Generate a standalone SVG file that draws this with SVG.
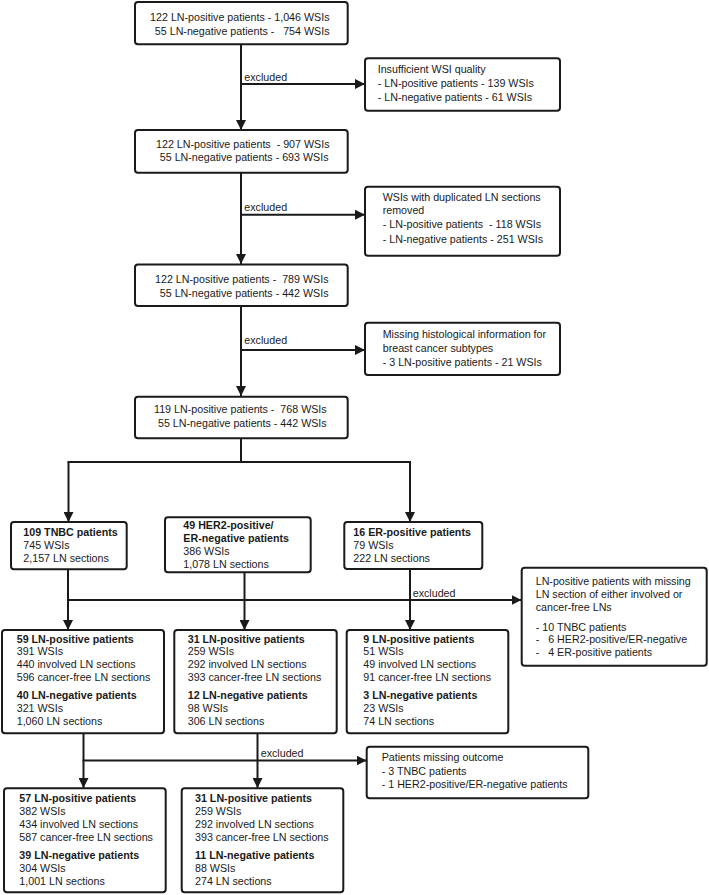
<svg xmlns="http://www.w3.org/2000/svg" width="709" height="895" viewBox="0 0 709 895">
<defs>
<style>
.box{fill:#fff;stroke:#1a1a1a;stroke-width:2}
.ln{fill:none;stroke:#1a1a1a;stroke-width:2}
.arr{marker-end:url(#ah)}
text{font-family:"Liberation Sans",Arial,sans-serif;font-size:10.7px;fill:#1a1a1a}
.b{font-weight:bold}
.e{text-anchor:end}
</style>
<marker id="ah" markerUnits="userSpaceOnUse" markerWidth="11" markerHeight="10" refX="10" refY="5" orient="auto">
<path d="M0,0 L10,5 L0,10 z" fill="#1a1a1a"/>
</marker>
</defs>
<rect width="709" height="895" fill="#fff"/>

<g id="connectors">
<path class="ln arr" d="M241,44 V130"/>
<path class="ln arr" d="M241,84 H365"/>
<path class="ln arr" d="M241,173 V264"/>
<path class="ln arr" d="M241,214.7 H365"/>
<path class="ln arr" d="M241,306 V396"/>
<path class="ln arr" d="M241,350 H365"/>
<path class="ln" d="M241,438 V462 M67.5,462 H411"/>
<path class="ln arr" d="M68.5,462 V522"/>
<path class="ln arr" d="M410,462 V522"/>
<path class="ln arr" d="M68,569 V630"/>
<path class="ln arr" d="M67,600 H521.5"/>
<path class="ln arr" d="M244.5,572 V630"/>
<path class="ln arr" d="M410,569 V630"/>
<path class="ln arr" d="M83.5,733 V788"/>
<path class="ln arr" d="M257.5,733 V788"/>
<path class="ln arr" d="M82.5,760.5 H366.5"/>
<text x="244.3" y="81.3">excluded</text>
<text x="244.3" y="210.7">excluded</text>
<text x="244.3" y="344">excluded</text>
<text x="412.7" y="596.7">excluded</text>
<text x="260.7" y="757.3">excluded</text>
</g>

<g id="n1">
<rect class="box" x="135" y="2" width="212.7" height="42.3" rx="3"/>
<text class="e" x="329.5" y="21" xml:space="preserve">122 LN-positive patients - 1,046 WSIs</text>
<text class="e" x="329.5" y="35" xml:space="preserve">55 LN-negative patients -   754 WSIs</text>
</g>

<g id="x1">
<rect class="box" x="365" y="58.3" width="195" height="52.4" rx="3"/>
<text x="377.7" y="73.3">Insufficient WSI quality</text>
<text x="377.7" y="86.7">- LN-positive patients - 139 WSIs</text>
<text x="377.7" y="100.7">- LN-negative patients - 61 WSIs</text>
</g>

<g id="n2">
<rect class="box" x="135" y="130" width="212.7" height="42.7" rx="3"/>
<text class="e" x="329.5" y="147.7" xml:space="preserve">122 LN-positive patients  - 907 WSIs</text>
<text class="e" x="328.5" y="161.3" xml:space="preserve">55 LN-negative patients - 693 WSIs</text>
</g>

<g id="x2">
<rect class="box" x="365" y="186.7" width="195" height="69" rx="3"/>
<text x="382.7" y="200.7">WSIs with duplicated LN sections</text>
<text x="382.7" y="214">removed</text>
<text x="382.7" y="228.3" xml:space="preserve">- LN-positive patients  - 118 WSIs</text>
<text x="382.7" y="242.7">- LN-negative patients - 251 WSIs</text>
</g>

<g id="n3">
<rect class="box" x="135" y="264.5" width="212.7" height="41.5" rx="3"/>
<text class="e" x="328.5" y="282.7" xml:space="preserve">122 LN-positive patients -  789 WSIs</text>
<text class="e" x="328.5" y="296.7" xml:space="preserve">55 LN-negative patients - 442 WSIs</text>
</g>

<g id="x3">
<rect class="box" x="365" y="322.7" width="195" height="52.3" rx="3"/>
<text x="382.7" y="338.3">Missing histological information for</text>
<text x="382.7" y="351.7">breast cancer subtypes</text>
<text x="382.7" y="366">- 3 LN-positive patients - 21 WSIs</text>
</g>

<g id="n4">
<rect class="box" x="135" y="396.7" width="212.7" height="41.6" rx="3"/>
<text class="e" x="326.7" y="413.3" xml:space="preserve">119 LN-positive patients -  768 WSIs</text>
<text class="e" x="326.7" y="426.7" xml:space="preserve">55 LN-negative patients - 442 WSIs</text>
</g>

<g id="tnbc">
<rect class="box" x="11" y="522" width="115.7" height="47.3" rx="3"/>
<text class="b" x="23.3" y="536">109 TNBC patients</text>
<text x="23.3" y="548.7">745 WSIs</text>
<text x="23.3" y="562">2,157 LN sections</text>
</g>

<g id="her2">
<rect class="box" x="165" y="517.3" width="145.7" height="55" rx="3"/>
<text class="b" x="183.3" y="529">49 HER2-positive/</text>
<text class="b" x="183.3" y="542">ER-negative patients</text>
<text x="183.3" y="555">386 WSIs</text>
<text x="183.3" y="567.7">1,078 LN sections</text>
</g>

<g id="er">
<rect class="box" x="344.3" y="522" width="138" height="47" rx="3"/>
<text class="b" x="353.3" y="536">16 ER-positive patients</text>
<text x="353.3" y="548.7">79 WSIs</text>
<text x="353.3" y="562">222 LN sections</text>
</g>

<g id="x4">
<rect class="box" x="521.7" y="567.7" width="185" height="98" rx="3"/>
<text x="535.7" y="584.7">LN-positive patients with missing</text>
<text x="535.7" y="598">LN section of either involved or</text>
<text x="535.7" y="610.5">cancer-free LNs</text>
<text x="535.7" y="630.5">- 10 TNBC patients</text>
<text x="535.7" y="643" xml:space="preserve">-   6 HER2-positive/ER-negative</text>
<text x="535.7" y="656.3" xml:space="preserve">-   4 ER-positive patients</text>
</g>

<g id="tnbc2">
<rect class="box" x="2" y="630" width="162" height="103.3" rx="3"/>
<text class="b" x="16.7" y="642.5">59 LN-positive patients</text>
<text x="16.7" y="655.3">391 WSIs</text>
<text x="16.7" y="668.2">440 involved LN sections</text>
<text x="16.7" y="681">596 cancer-free LN sections</text>
<text class="b" x="16.7" y="699.3">40 LN-negative patients</text>
<text x="16.7" y="712.2">321 WSIs</text>
<text x="16.7" y="725">1,060 LN sections</text>
</g>

<g id="her22">
<rect class="box" x="174.3" y="630" width="162.4" height="103.3" rx="3"/>
<text class="b" x="187.7" y="642.5">31 LN-positive patients</text>
<text x="187.7" y="655.3">259 WSIs</text>
<text x="187.7" y="668.2">292 involved LN sections</text>
<text x="187.7" y="681">393 cancer-free LN sections</text>
<text class="b" x="187.7" y="699.3">12 LN-negative patients</text>
<text x="187.7" y="712.2">98 WSIs</text>
<text x="187.7" y="725">306 LN sections</text>
</g>

<g id="er2">
<rect class="box" x="346.7" y="630" width="161.6" height="103.3" rx="3"/>
<text class="b" x="363.3" y="642.5">9 LN-positive patients</text>
<text x="363.3" y="655.3">51 WSIs</text>
<text x="363.3" y="668.2">49 involved LN sections</text>
<text x="363.3" y="681">91 cancer-free LN sections</text>
<text class="b" x="363.3" y="699.3">3 LN-negative patients</text>
<text x="363.3" y="712.2">23 WSIs</text>
<text x="363.3" y="725">74 LN sections</text>
</g>

<g id="x5">
<rect class="box" x="366.7" y="746.7" width="221.6" height="51.6" rx="3"/>
<text x="381.7" y="761">Patients missing outcome</text>
<text x="381.7" y="774.5">- 3 TNBC patients</text>
<text x="381.7" y="788.2">- 1 HER2-positive/ER-negative patients</text>
</g>

<g id="tnbc3">
<rect class="box" x="4" y="788.3" width="161.7" height="104" rx="3"/>
<text class="b" x="19.3" y="802">57 LN-positive patients</text>
<text x="19.3" y="815.3">382 WSIs</text>
<text x="19.3" y="828">434 involved LN sections</text>
<text x="19.3" y="841.3">587 cancer-free LN sections</text>
<text class="b" x="19.3" y="859">39 LN-negative patients</text>
<text x="19.3" y="872">304 WSIs</text>
<text x="19.3" y="884.7">1,001 LN sections</text>
</g>

<g id="her23">
<rect class="box" x="181.7" y="788.3" width="161.6" height="104" rx="3"/>
<text class="b" x="195" y="802">31 LN-positive patients</text>
<text x="195" y="815.3">259 WSIs</text>
<text x="195" y="828">292 involved LN sections</text>
<text x="195" y="841.3">393 cancer-free LN sections</text>
<text class="b" x="195" y="859">11 LN-negative patients</text>
<text x="195" y="872">88 WSIs</text>
<text x="195" y="884.7">274 LN sections</text>
</g>
</svg>
